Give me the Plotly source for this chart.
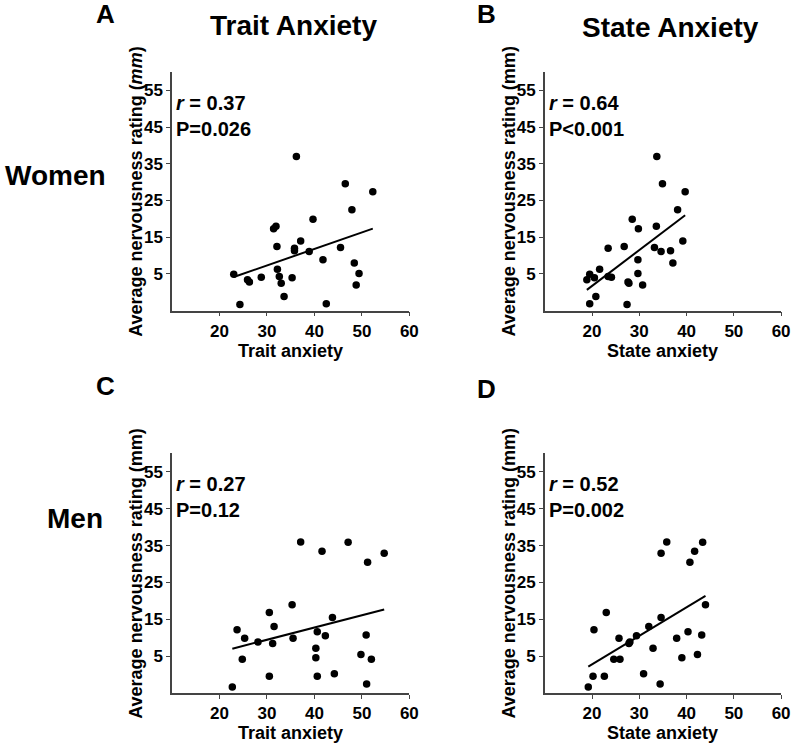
import numpy as np
import plotly.graph_objects as go

# Women (panels A and B share the nervousness rating)
women_trait = [36.2, 46.5, 52.3, 47.9, 39.7, 31.9, 31.4, 37.1, 32.1, 45.5, 35.8, 35.8, 38.9, 41.8,
               48.4, 32.2, 49.4, 23.0, 32.6, 28.8, 35.3, 25.9, 26.3, 33.0, 48.8, 33.6, 42.5, 24.3]
women_state = [33.7, 34.9, 39.7, 38.1, 28.5, 33.6, 29.8, 39.2, 26.8, 33.2, 23.4, 36.6, 34.6, 29.7,
               37.1, 21.6, 29.7, 19.5, 23.4, 24.1, 20.5, 18.9, 27.6, 27.8, 30.7, 20.8, 19.5, 27.4]
women_nerv = [37.0, 29.6, 27.4, 22.5, 19.9, 18.0, 17.3, 14.0, 12.5, 12.2, 12.0, 11.3, 11.1, 8.9,
              8.0, 6.3, 5.1, 4.9, 4.3, 4.1, 4.0, 3.4, 2.8, 2.5, 2.0, -1.1, -3.1, -3.3]

# Men (panels C and D)
men_trait = [37.1, 47.1, 41.6, 54.7, 51.2, 35.3, 30.5, 43.8, 31.5, 23.7, 40.6, 50.9, 42.3, 25.3,
             35.5, 28.1, 31.2, 40.3, 49.8, 40.3, 24.8, 52.0, 44.2, 30.5, 40.6, 51.0, 22.7]
men_state = [35.8, 43.4, 41.7, 34.6, 40.7, 44.0, 23.0, 34.6, 32.0, 20.4, 40.3, 43.2, 29.4, 25.7,
             37.9, 28.0, 27.8, 32.9, 42.3, 39.0, 24.6, 25.9, 30.9, 22.6, 20.2, 34.4, 19.2]
men_nerv = [36.0, 35.9, 33.5, 32.9, 30.5, 19.0, 16.9, 15.5, 13.1, 12.2, 11.7, 10.8, 10.6, 9.9,
            9.9, 8.9, 8.5, 7.2, 5.5, 4.6, 4.2, 4.2, 0.3, -0.4, -0.4, -2.5, -3.3]

stats = ["<i>r</i> = 0.37", "<i>r</i> = 0.64", "<i>r</i> = 0.27", "<i>r</i> = 0.52"]
pvals = ["P=0.026", "P<0.001", "P=0.12", "P=0.002"]
y_ticks = [5, 15, 25, 35, 45, 55]
x_ticks = [20, 30, 40, 50, 60]

W, H = 800, 744
FONT = "Arial, Liberation Sans, sans-serif"


def px(x):
    return x / W


def py(y):
    return 1 - y / H


panels = [
    dict(x=women_trait, y=women_nerv, xt="Trait anxiety", dx=(174, 414), dy=(72, 310.7), ylab="(<i>mm</i>)"),
    dict(x=women_state, y=women_nerv, xt="State anxiety", dx=(551, 790), dy=(72, 310.7), ylab="(mm)"),
    dict(x=men_trait, y=men_nerv, xt="Trait anxiety", dx=(174, 414), dy=(453.3, 693.3), ylab="(mm)"),
    dict(x=men_state, y=men_nerv, xt="State anxiety", dx=(551, 790), dy=(453.3, 693.3), ylab="(mm)"),
]

fig = go.Figure()
annotations = []
layout = {}

for i, p in enumerate(panels):
    n = i + 1
    xa = "x" if n == 1 else f"x{n}"
    ya = "y" if n == 1 else f"y{n}"
    xs = np.array(p["x"])
    ys = np.array(p["y"])

    fig.add_trace(go.Scatter(
        x=xs, y=ys, mode="markers", xaxis=xa, yaxis=ya,
        marker=dict(size=7.5, color="black"), showlegend=False
    ))

    # least squares fit line over the data span
    slope, icpt = np.polyfit(xs, ys, 1)
    fx = np.array([xs.min(), xs.max()])
    fig.add_trace(go.Scatter(
        x=fx, y=slope * fx + icpt, mode="lines", xaxis=xa, yaxis=ya,
        line=dict(color="black", width=2), showlegend=False
    ))

    axis_common = dict(
        showline=True, linecolor="#444", linewidth=1.5, showgrid=False, zeroline=False,
        ticks="outside", ticklen=4, tickwidth=1, tickcolor="#444",
        tickfont=dict(family=FONT, size=17, color="black", weight="bold"),
    )
    layout["xaxis" if n == 1 else f"xaxis{n}"] = dict(
        domain=[px(p["dx"][0]), px(p["dx"][1])], anchor=ya, range=[10, 60],
        tickvals=x_ticks, **axis_common
    )
    layout["yaxis" if n == 1 else f"yaxis{n}"] = dict(
        domain=[py(p["dy"][1]), py(p["dy"][0])], anchor=xa, range=[-5, 60],
        tickvals=y_ticks, **axis_common
    )

    cx = (p["dx"][0] + p["dx"][1]) / 2
    cy = (p["dy"][0] + p["dy"][1]) / 2
    # x title
    annotations.append(dict(
        x=px(cx), y=py(p["dy"][1] + 40), xref="paper", yref="paper",
        xanchor="center", yanchor="middle",
        text=p["xt"], showarrow=False, font=dict(family=FONT, size=18, color="black", weight="bold")
    ))
    # y title
    annotations.append(dict(
        x=px(p["dx"][0] - 36), y=py(cy), xref="paper", yref="paper", textangle=-90,
        xanchor="center", yanchor="middle",
        text="Average nervousness rating " + p["ylab"], showarrow=False,
        font=dict(family=FONT, size=18, color="black", weight="bold")
    ))
    # stats text
    for txt, yv in [(stats[i], 51.6), (pvals[i], 44.6)]:
        annotations.append(dict(
            x=10, y=yv, xref=xa, yref=ya, xanchor="left", yanchor="middle", xshift=2,
            text=txt, showarrow=False,
            font=dict(family=FONT, size=20, color="black", weight="bold")
        ))

big = dict(family=FONT, size=28, color="black", weight="bold")
for txt, x, y in [("Trait Anxiety", 297, 26), ("State Anxiety", 678, 28),
                  ("Women", 56, 175), ("Men", 76, 518)]:
    annotations.append(dict(x=px(x), y=py(y), xref="paper", yref="paper", text=txt,
                            xanchor="center", yanchor="middle", showarrow=False, font=big))
for txt, x, y in [("A", 107, 14), ("B", 492, 14), ("C", 107, 386), ("D", 492, 389)]:
    annotations.append(dict(x=px(x), y=py(y), xref="paper", yref="paper", text=txt,
                            xanchor="center", yanchor="middle", showarrow=False,
                            font=dict(family=FONT, size=26, color="black", weight="bold")))

fig.update_layout(
    width=W, height=H,
    margin=dict(l=0, r=0, t=0, b=0),
    paper_bgcolor="white", plot_bgcolor="white",
    annotations=annotations,
    **layout
)

# drop the default page margin so the figure fills the window exactly
fig.write_html("out.html", config={"displayModeBar": False},
               post_script="document.body.style.margin='0';")
